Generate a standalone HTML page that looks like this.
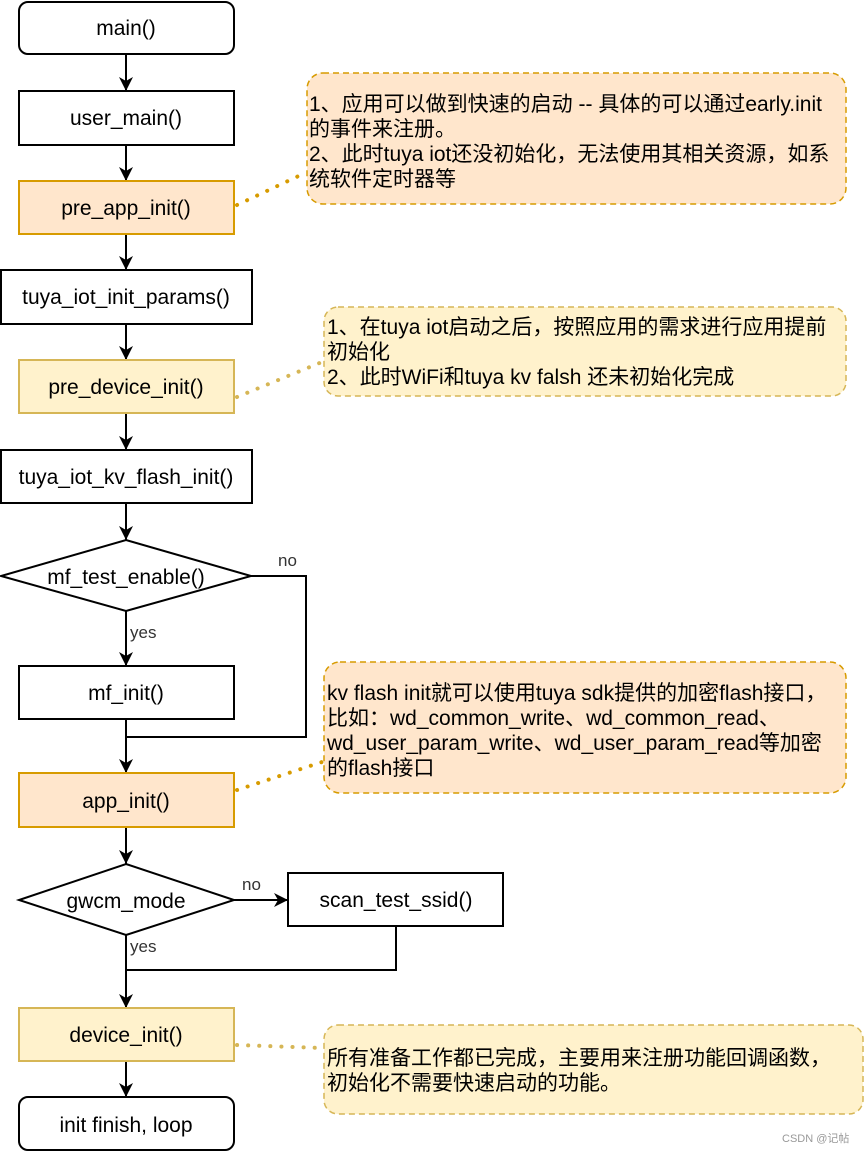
<!DOCTYPE html>
<html><head><meta charset="utf-8"><style>
html,body{margin:0;padding:0;background:#fff;}
svg{display:block;}
text{font-family:"Liberation Sans","Noto Sans CJK SC",sans-serif;}
</style></head><body>
<svg width="865" height="1152" viewBox="0 0 865 1152" xmlns="http://www.w3.org/2000/svg">
<defs><marker id="a" markerWidth="16" markerHeight="14" refX="14" refY="7" orient="auto" markerUnits="userSpaceOnUse"><path d="M0,0 L14,7 L0,14 L4,7 Z" fill="#000"/></marker></defs>
<g stroke="#000" stroke-width="2" fill="none">
<line x1="126" y1="54" x2="126" y2="91" marker-end="url(#a)"/>
<line x1="126" y1="145" x2="126" y2="181" marker-end="url(#a)"/>
<line x1="126" y1="234" x2="126" y2="270" marker-end="url(#a)"/>
<line x1="126" y1="324" x2="126" y2="360" marker-end="url(#a)"/>
<line x1="126" y1="413" x2="126" y2="450" marker-end="url(#a)"/>
<line x1="126" y1="503" x2="126" y2="540" marker-end="url(#a)"/>
<line x1="126" y1="611" x2="126" y2="666" marker-end="url(#a)"/>
<polyline points="251,576 306,576 306,737 126,737"/>
<line x1="126" y1="719" x2="126" y2="773" marker-end="url(#a)"/>
<line x1="126" y1="827" x2="126" y2="864" marker-end="url(#a)"/>
<line x1="234" y1="900" x2="288" y2="900" marker-end="url(#a)"/>
<polyline points="396,926 396,970 126,970"/>
<line x1="126" y1="935" x2="126" y2="1008" marker-end="url(#a)"/>
<line x1="126" y1="1061" x2="126" y2="1097" marker-end="url(#a)"/>
</g>
<g stroke-width="2">
<rect x="19" y="2" width="215" height="52" rx="9" fill="#fff" stroke="#000"/>
<rect x="19" y="91" width="215" height="54" fill="#fff" stroke="#000"/>
<rect x="19" y="181" width="215" height="53" fill="#ffe6cc" stroke="#d79b00"/>
<rect x="1" y="270" width="251" height="54" fill="#fff" stroke="#000"/>
<rect x="19" y="360" width="215" height="53" fill="#fff2cc" stroke="#d6b656"/>
<rect x="1" y="450" width="251" height="53" fill="#fff" stroke="#000"/>
<polygon points="126,540 251,576 126,611 1,576" fill="#fff" stroke="#000"/>
<rect x="19" y="666" width="215" height="53" fill="#fff" stroke="#000"/>
<rect x="19" y="773" width="215" height="54" fill="#ffe6cc" stroke="#d79b00"/>
<polygon points="126,864 234,900 126,935 19,900" fill="#fff" stroke="#000"/>
<rect x="288" y="873" width="215" height="53" fill="#fff" stroke="#000"/>
<rect x="19" y="1008" width="215" height="53" fill="#fff2cc" stroke="#d6b656"/>
<rect x="19" y="1097" width="215" height="53" rx="9" fill="#fff" stroke="#000"/>
</g>
<g stroke-width="1.5" stroke-dasharray="6 4">
<rect x="307" y="73" width="539" height="131" rx="16" fill="#ffe6cc" stroke="#d79b00"/>
<rect x="324" y="307" width="522" height="89" rx="14" fill="#fff2cc" stroke="#d6b656"/>
<rect x="324" y="662" width="522" height="131" rx="16" fill="#ffe6cc" stroke="#d79b00"/>
<rect x="324" y="1025" width="539" height="89" rx="14" fill="#fff2cc" stroke="#d6b656"/>
</g>
<g stroke-width="4" stroke-dasharray="0.1 11" stroke-linecap="round" fill="none">
<line x1="237" y1="205" x2="305" y2="173" stroke="#d79b00"/>
<line x1="237" y1="397" x2="322" y2="362" stroke="#d6b656"/>
<line x1="237" y1="790" x2="322" y2="762" stroke="#d79b00"/>
<line x1="237" y1="1045" x2="322" y2="1048" stroke="#d6b656"/>
</g>
<g font-size="21" text-anchor="middle" fill="#000">
<text x="126" y="35">main()</text>
<text x="126" y="125">user_main()</text>
<text x="126" y="215">pre_app_init()</text>
<text x="126" y="304">tuya_iot_init_params()</text>
<text x="126" y="394">pre_device_init()</text>
<text x="126" y="484">tuya_iot_kv_flash_init()</text>
<text x="126" y="584">mf_test_enable()</text>
<text x="126" y="700">mf_init()</text>
<text x="126" y="808">app_init()</text>
<text x="126" y="908">gwcm_mode</text>
<text x="396" y="907">scan_test_ssid()</text>
<text x="126" y="1042">device_init()</text>
<text x="126" y="1132">init finish, loop</text>
</g>
<g font-size="17" fill="#333">
<text x="278" y="566">no</text>
<text x="130" y="638">yes</text>
<text x="242" y="890">no</text>
<text x="130" y="952">yes</text>
</g>
<g font-size="21" fill="#000">
<text x="309" y="111">1、应用可以做到快速的启动 -- 具体的可以通过early.init</text>
<text x="309" y="136">的事件来注册。</text>
<text x="309" y="161">2、此时tuya iot还没初始化，无法使用其相关资源，如系</text>
<text x="309" y="186">统软件定时器等</text>
<text x="327" y="334">1、在tuya iot启动之后，按照应用的需求进行应用提前</text>
<text x="327" y="359">初始化</text>
<text x="327" y="384">2、此时WiFi和tuya kv falsh 还未初始化完成</text>
<text x="327" y="700">kv flash init就可以使用tuya sdk提供的加密flash接口，</text>
<text x="327" y="725">比如：wd_common_write、wd_common_read、</text>
<text x="327" y="750">wd_user_param_write、wd_user_param_read等加密</text>
<text x="327" y="775">的flash接口</text>
<text x="327" y="1065">所有准备工作都已完成，主要用来注册功能回调函数，</text>
<text x="327" y="1090">初始化不需要快速启动的功能。</text>
</g>
<text x="782" y="1142" font-size="11" fill="#999">CSDN @记帖</text>
</svg>
</body></html>
